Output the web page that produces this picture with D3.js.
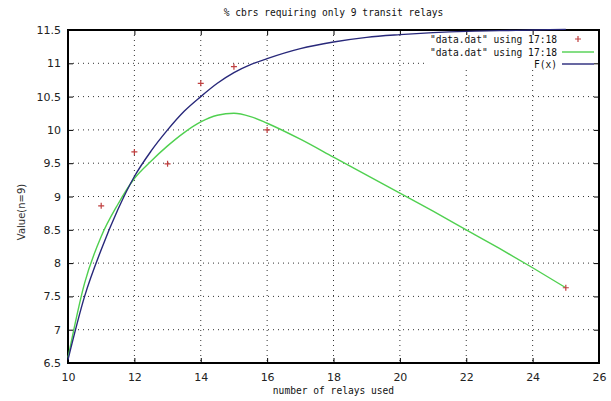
<!DOCTYPE html>
<html><head><meta charset="utf-8">
<script src="https://cdn.jsdelivr.net/npm/d3@7/dist/d3.min.js"></script>
<style>body{margin:0;background:#fff}</style>
</head><body>
<svg id="c" width="611" height="401"></svg>
<script>
const title = "% cbrs requiring only 9 transit relays";
const xLabel = "number of relays used";
const yLabel = "Value(n=9)";
const xTicks = [10,12,14,16,18,20,22,24,26];
const yTicks = [6.5,7,7.5,8,8.5,9,9.5,10,10.5,11,11.5];
const legendLabels = ['"data.dat" using 17:18','"data.dat" using 17:18','F(x)'];
// data points
const pointX = [11,12,13,14,15,16,25];
const pointY = [8.86,9.67,9.49,10.7,10.95,10.0,7.63];
// smoothed curve (green)
const smoothX = [10,10.5,11,11.5,12,12.5,13,13.5,14,14.5,15,15.5,16,17,18,19,20,21,22,23,24,25];
const smoothY = [6.58,7.7,8.4,8.88,9.27,9.53,9.76,9.96,10.12,10.22,10.25,10.2,10.1,9.86,9.59,9.32,9.05,8.78,8.5,8.22,7.93,7.63];
// fitted function F(x) (blue)
const fitX = [10,10.5,11,11.5,12,12.5,13,13.5,14,14.5,15,15.5,16,17,18,19,20,21,22,23,24,25];
const fitY = [6.55,7.5,8.2,8.8,9.3,9.68,10.0,10.28,10.5,10.7,10.86,10.98,11.07,11.22,11.32,11.39,11.43,11.46,11.48,11.49,11.5,11.51];

const svg = d3.select("#c");
const L=68, R=599, T=30, B=363;
const x = d3.scaleLinear().domain([10,26]).range([L,R]);
const y = d3.scaleLinear().domain([6.5,11.5]).range([B,T]);
const mono = "'DejaVu Sans Mono', monospace";
const sans = "'DejaVu Sans', sans-serif";

// grid
const g = svg.append("g");
g.selectAll("line.gx").data(xTicks.slice(1,-1)).join("line")
 .attr("x1",d=>x(d)).attr("x2",d=>x(d)).attr("y1",T).attr("y2",B)
 .attr("stroke","#333").attr("stroke-width",1).attr("stroke-dasharray","1,4");
g.selectAll("line.gy").data(yTicks.slice(1,-1)).join("line")
 .attr("y1",d=>y(d)).attr("y2",d=>y(d)).attr("x1",L).attr("x2",R)
 .attr("stroke","#333").attr("stroke-width",1).attr("stroke-dasharray","1,4");

// legend background (hides grid)
svg.append("rect").attr("x",428).attr("y",32).attr("width",170).attr("height",38).attr("fill","#fff");

// axes with inner ticks
const ax = svg.append("g").attr("transform",`translate(0,${B})`).call(d3.axisBottom(x).tickValues(xTicks).tickSize(-5).tickPadding(10).tickFormat(d3.format("d")));
const axT = svg.append("g").attr("transform",`translate(0,${T})`).call(d3.axisTop(x).tickValues(xTicks).tickSize(-5).tickFormat(""));
const ay = svg.append("g").attr("transform",`translate(${L},0)`).call(d3.axisLeft(y).tickValues(yTicks).tickSize(-5).tickPadding(7).tickFormat(d=>String(d)));
const ayR = svg.append("g").attr("transform",`translate(${R},0)`).call(d3.axisRight(y).tickValues(yTicks).tickSize(-5).tickFormat(""));
[ax,axT,ay,ayR].forEach(a=>{
  a.select(".domain").remove();
  a.selectAll(".tick line").attr("stroke","#000");
  a.selectAll("text").attr("font-family",sans).attr("font-size","11px").attr("fill","#222");
});

// border
svg.append("rect").attr("x",L).attr("y",T).attr("width",R-L).attr("height",B-T)
 .attr("fill","none").attr("stroke","#000").attr("stroke-width",2);

// curves
const smooth = smoothX.map((d,i)=>[d,smoothY[i]]);
const fit = fitX.map((d,i)=>[d,fitY[i]]);
const line = d3.line().x(d=>x(d[0])).y(d=>y(d[1])).curve(d3.curveMonotoneX);
svg.append("path").datum(smooth).attr("d",line).attr("fill","none").attr("stroke","#50d050").attr("stroke-width",1.4);
svg.append("path").datum(fit).attr("d",line).attr("fill","none").attr("stroke","#28287a").attr("stroke-width",1.4);

// points
const pts = pointX.map((d,i)=>[d,pointY[i]]);
svg.append("g").selectAll("path").data(pts).join("path")
 .attr("d",d=>`M${x(d[0])-3},${y(d[1])}h6M${x(d[0])},${y(d[1])-3}v6`)
 .attr("stroke","#c04040").attr("stroke-width",1.2);

// legend
const legY = [39,52,64];
svg.append("g").selectAll("text").data(legendLabels).join("text")
 .attr("x",557).attr("y",(d,i)=>legY[i]+4).attr("text-anchor","end")
 .attr("font-family",mono).attr("font-size","9.6px").attr("fill","#111").text(d=>d);
svg.append("path").attr("d",`M${575},${legY[0]}h6M${578},${legY[0]-3}v6`).attr("stroke","#c04040").attr("stroke-width",1.2);
svg.append("line").attr("x1",562).attr("x2",594).attr("y1",legY[1]).attr("y2",legY[1]).attr("stroke","#50d050").attr("stroke-width",1.4);
svg.append("line").attr("x1",562).attr("x2",594).attr("y1",legY[2]).attr("y2",legY[2]).attr("stroke","#28287a").attr("stroke-width",1.4);

// title & labels
svg.append("text").attr("x",(L+R)/2).attr("y",16).attr("text-anchor","middle")
 .attr("font-family",mono).attr("font-size","9.6px").attr("fill","#111").text(title);
svg.append("text").attr("x",(L+R)/2).attr("y",394).attr("text-anchor","middle")
 .attr("font-family",mono).attr("font-size","9.6px").attr("fill","#111").text(xLabel);
svg.append("text").attr("transform","translate(25,212) rotate(-90)").attr("text-anchor","middle")
 .attr("font-family",sans).attr("font-size","10px").attr("fill","#333").text(yLabel);
</script>
</body></html>
